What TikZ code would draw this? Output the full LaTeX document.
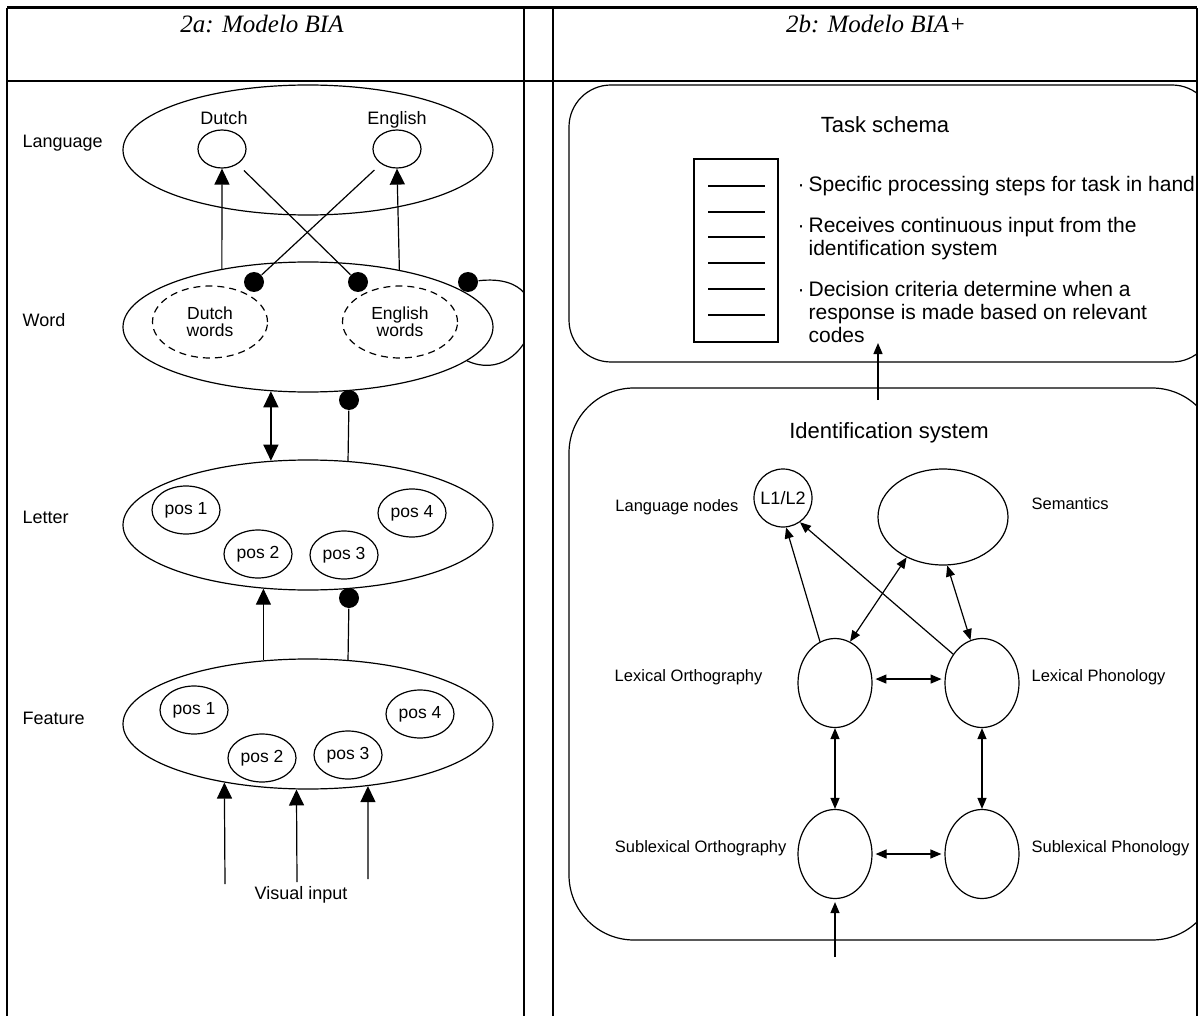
\documentclass[tikz,border=0pt]{standalone}
\usepackage{fontspec}
\setmainfont{Liberation Serif}
\setsansfont{Liberation Sans}
\usetikzlibrary{shapes.geometric, arrows.meta, positioning}

\begin{document}
\begin{tikzpicture}[x=1pt, y=-1pt, line width=1.2pt]
 \tikzstyle{lvl} = [draw, ellipse, minimum width=370pt, minimum height=130pt, inner sep=0pt]
 \tikzstyle{lang} = [draw, ellipse, minimum width=48pt, minimum height=38pt, inner sep=0pt]
 \tikzstyle{words} = [draw, dash pattern=on 7pt off 5pt, ellipse, minimum width=115pt, minimum height=72pt, inner sep=0pt, align=center, font=\sffamily\fontsize{17.5}{17}\selectfont]
 \tikzstyle{slot} = [draw, ellipse, minimum width=68pt, minimum height=48pt, inner sep=0pt, font=\sffamily\fontsize{17.5}{18}\selectfont]
 \tikzstyle{lbl} = [inner sep=0pt, font=\sffamily\fontsize{18}{20}\selectfont]
 \tikzstyle{inh} = [fill, circle, minimum size=20pt, inner sep=0pt]
 \tikzstyle{exc} = [-{Triangle[length=16pt, width=15pt]}]
 \tikzstyle{bexc} = [{Triangle[length=16pt, width=15pt]}-{Triangle[length=16pt, width=15pt]}]
 \tikzstyle{ttl} = [inner sep=0pt, font=\sffamily\fontsize{22}{24}\selectfont]
 \tikzstyle{bul} = [anchor=north west, align=left, inner sep=0pt, font=\sffamily\fontsize{21}{23}\selectfont]
 \tikzstyle{rlbl} = [inner sep=0pt, font=\sffamily\fontsize{16.5}{18}\selectfont]
 \tikzstyle{unit} = [draw, ellipse, minimum width=74pt, minimum height=89pt, inner sep=0pt]
 \tikzstyle{sexc} = [-{Triangle[length=11pt, width=9pt]}]
 \tikzstyle{sbexc} = [{Triangle[length=11pt, width=9pt]}-{Triangle[length=11pt, width=9pt]}]

 \useasboundingbox (0,0) rectangle (1202,1016);

 % table
 \draw[line width=3pt] (7,8) -- (1197,8);
 \draw[line width=2.5pt] (7,81) -- (1197,81);
 \draw[line width=1.5pt] (7,8) -- (7,1016);
 \draw[line width=1.5pt] (524,8) -- (524,1016);
 \draw[line width=1.5pt] (553,8) -- (553,1016);
 \draw[line width=1.5pt] (1197,8) -- (1197,1016);
 \node[font=\itshape\fontsize{25}{28}\selectfont] (headA) at (262,24) {2a: Modelo BIA};
 \node[font=\itshape\fontsize{25}{28}\selectfont] (headB) at (876,24) {2b: Modelo BIA+};

 % 2a: BIA
 \node [lvl] (language) at (308,150) {};
 \node [lvl] (word)     at (308,327) {};
 \node [lvl] (letter)   at (308,525) {};
 \node [lvl] (feature)  at (308,724) {};
 \node [lbl, anchor=west] (languagelab) at (22,143) {Language};
 \node [lbl, anchor=west] (wordlab)     at (22,320) {Word};
 \node [lbl, anchor=west] (letterlab)   at (22,517) {Letter};
 \node [lbl, anchor=west] (featurelab)  at (22,718) {Feature};

 \node [lang] (dutch)   at (222,149) {};
 \node [lang] (english) at (397,149) {};
 \node [lbl, anchor=base] (dutchlab)   at (224,125) {Dutch};
 \node [lbl, anchor=base] (englishlab) at (397,125) {English};
 \node [words] (dutchw)   at (210,322) {Dutch\\words};
 \node [words] (englishw) at (400,322) {English\\words};

 \node [slot] (l1) at (186,510) {pos 1};
 \node [slot] (l2) at (258,554) {pos 2};
 \node [slot] (l3) at (344,555) {pos 3};
 \node [slot] (l4) at (412,513) {pos 4};
 \node [slot] (f1) at (194,710) {pos 1};
 \node [slot] (f2) at (262,758) {pos 2};
 \node [slot] (f3) at (348,755) {pos 3};
 \node [slot] (f4) at (420,714) {pos 4};

 \node [inh] (inhd)  at (254,282) {};
 \node [inh] (inhe)  at (358,282) {};
 \node [inh] (inhw)  at (468,282) {};
 \node [inh] (inhlw) at (349,400) {};
 \node [inh] (inhfl) at (349,598) {};

 \draw [exc] (word.146) -- (dutch.south);
 \draw [exc] (word.32.5) -- (english.south);
 \draw [shorten <=9pt] (dutch) -- (inhe);
 \draw [shorten <=9pt] (english) -- (inhd);
 \begin{scope}
  \clip (7,81) rectangle (524,1016);
  \draw (word.-12) .. controls (530,390) and (570,270) .. (inhw);
 \end{scope}
 \draw [bexc] (word.-120) -- (letter.120);
 \draw (letter.58) -- (inhlw);
 \draw [exc] (feature.125) -- (letter.-125);
 \draw (feature.58) -- (inhfl);

 \node [lbl] (vislab) at (301,895) {Visual input};
 \coordinate (vis1) at (225,884);
 \coordinate (vis2) at (297,882);
 \coordinate (vis3) at (368,879);
 \draw [exc] (vis1) -- (feature.-145);
 \draw [exc] (vis2) -- (feature.-100);
 \draw [exc] (vis3) -- (feature.-46);

 % 2b: BIA+
 \begin{scope}
  \clip (553,81) rectangle (1197,1016);
  \node [draw, rounded corners=42pt, minimum width=645pt, minimum height=277pt, inner sep=0pt] (task) at (891.5,223.5) {};
  \node [ttl] (tasklab) at (885,125) {Task schema};
  \node [draw, minimum width=84pt, minimum height=183pt, inner sep=0pt] (steps) at (736,250.5) {};
  \foreach \yy in {186,212,237,263,289,315}
   \draw (708,\yy) -- (765,\yy);
  \node [bul] (bul1) at (808,176) {\llap{·\hspace{4pt}}Specific processing steps for task in hand};
  \node [bul] (bul2) at (808,217) {\llap{·\hspace{4pt}}Receives continuous input from the\\identification system};
  \node [bul] (bul3) at (808,281) {\llap{·\hspace{4pt}}Decision criteria determine when a\\response is made based on relevant\\codes};

  \node [draw, rounded corners=65pt, minimum width=648pt, minimum height=552pt, inner sep=0pt] (idbox) at (893,664) {};
  \node [ttl] (idlab) at (889,433) {Identification system};
 \end{scope}

 \coordinate (tsin)  at (878,400);
 \coordinate (tsout) at (878,343);
 \draw [sexc] (tsin) -- (tsout);

 \node [draw, circle, minimum size=58pt, inner sep=0pt, font=\sffamily\fontsize{18}{20}\selectfont] (l12) at (783,498) {L1/L2};
 \node [draw, ellipse, minimum width=130pt, minimum height=96pt, inner sep=0pt] (sem) at (943,517) {};
 \node [unit] (lexorth) at (835,683) {};
 \node [unit] (lexphon) at (982,683) {};
 \node [unit] (subort)  at (835,854) {};
 \node [unit] (subphon) at (982,854) {};

 \node [rlbl, anchor=east] (l12lab)     at (739,507) {Language nodes};
 \node [rlbl, anchor=west] (semlab)     at (1031,504) {Semantics};
 \node [rlbl, anchor=east] (lexortlab)  at (763,677) {Lexical Orthography};
 \node [rlbl, anchor=west] (lexphonlab) at (1031,677) {Lexical Phonology};
 \node [rlbl, anchor=east] (subortlab)  at (787,848) {Sublexical Orthography};
 \node [rlbl, anchor=west] (subphonlab) at (1031,848) {Sublexical Phonology};

 \draw [sexc] (lexorth.110) -- (l12.-84);
 \draw [sexc] (lexphon.135) -- (l12.-55);
 \draw [sbexc] (lexorth.70) -- (sem.-132);
 \draw [sbexc] (lexphon.105) -- (sem.-85);
 \draw [sbexc, shorten <=3pt, shorten >=3pt] (lexorth.6) -- (lexphon.174);
 \draw [sbexc] (lexorth) -- (subort);
 \draw [sbexc] (lexphon) -- (subphon);
 \draw [sbexc, shorten <=3pt, shorten >=3pt] (subort) -- (subphon);
 \coordinate (idin) at (835,957);
 \draw [sexc, shorten >=3pt] (idin) -- (subort.south);
\end{tikzpicture}
\end{document}
